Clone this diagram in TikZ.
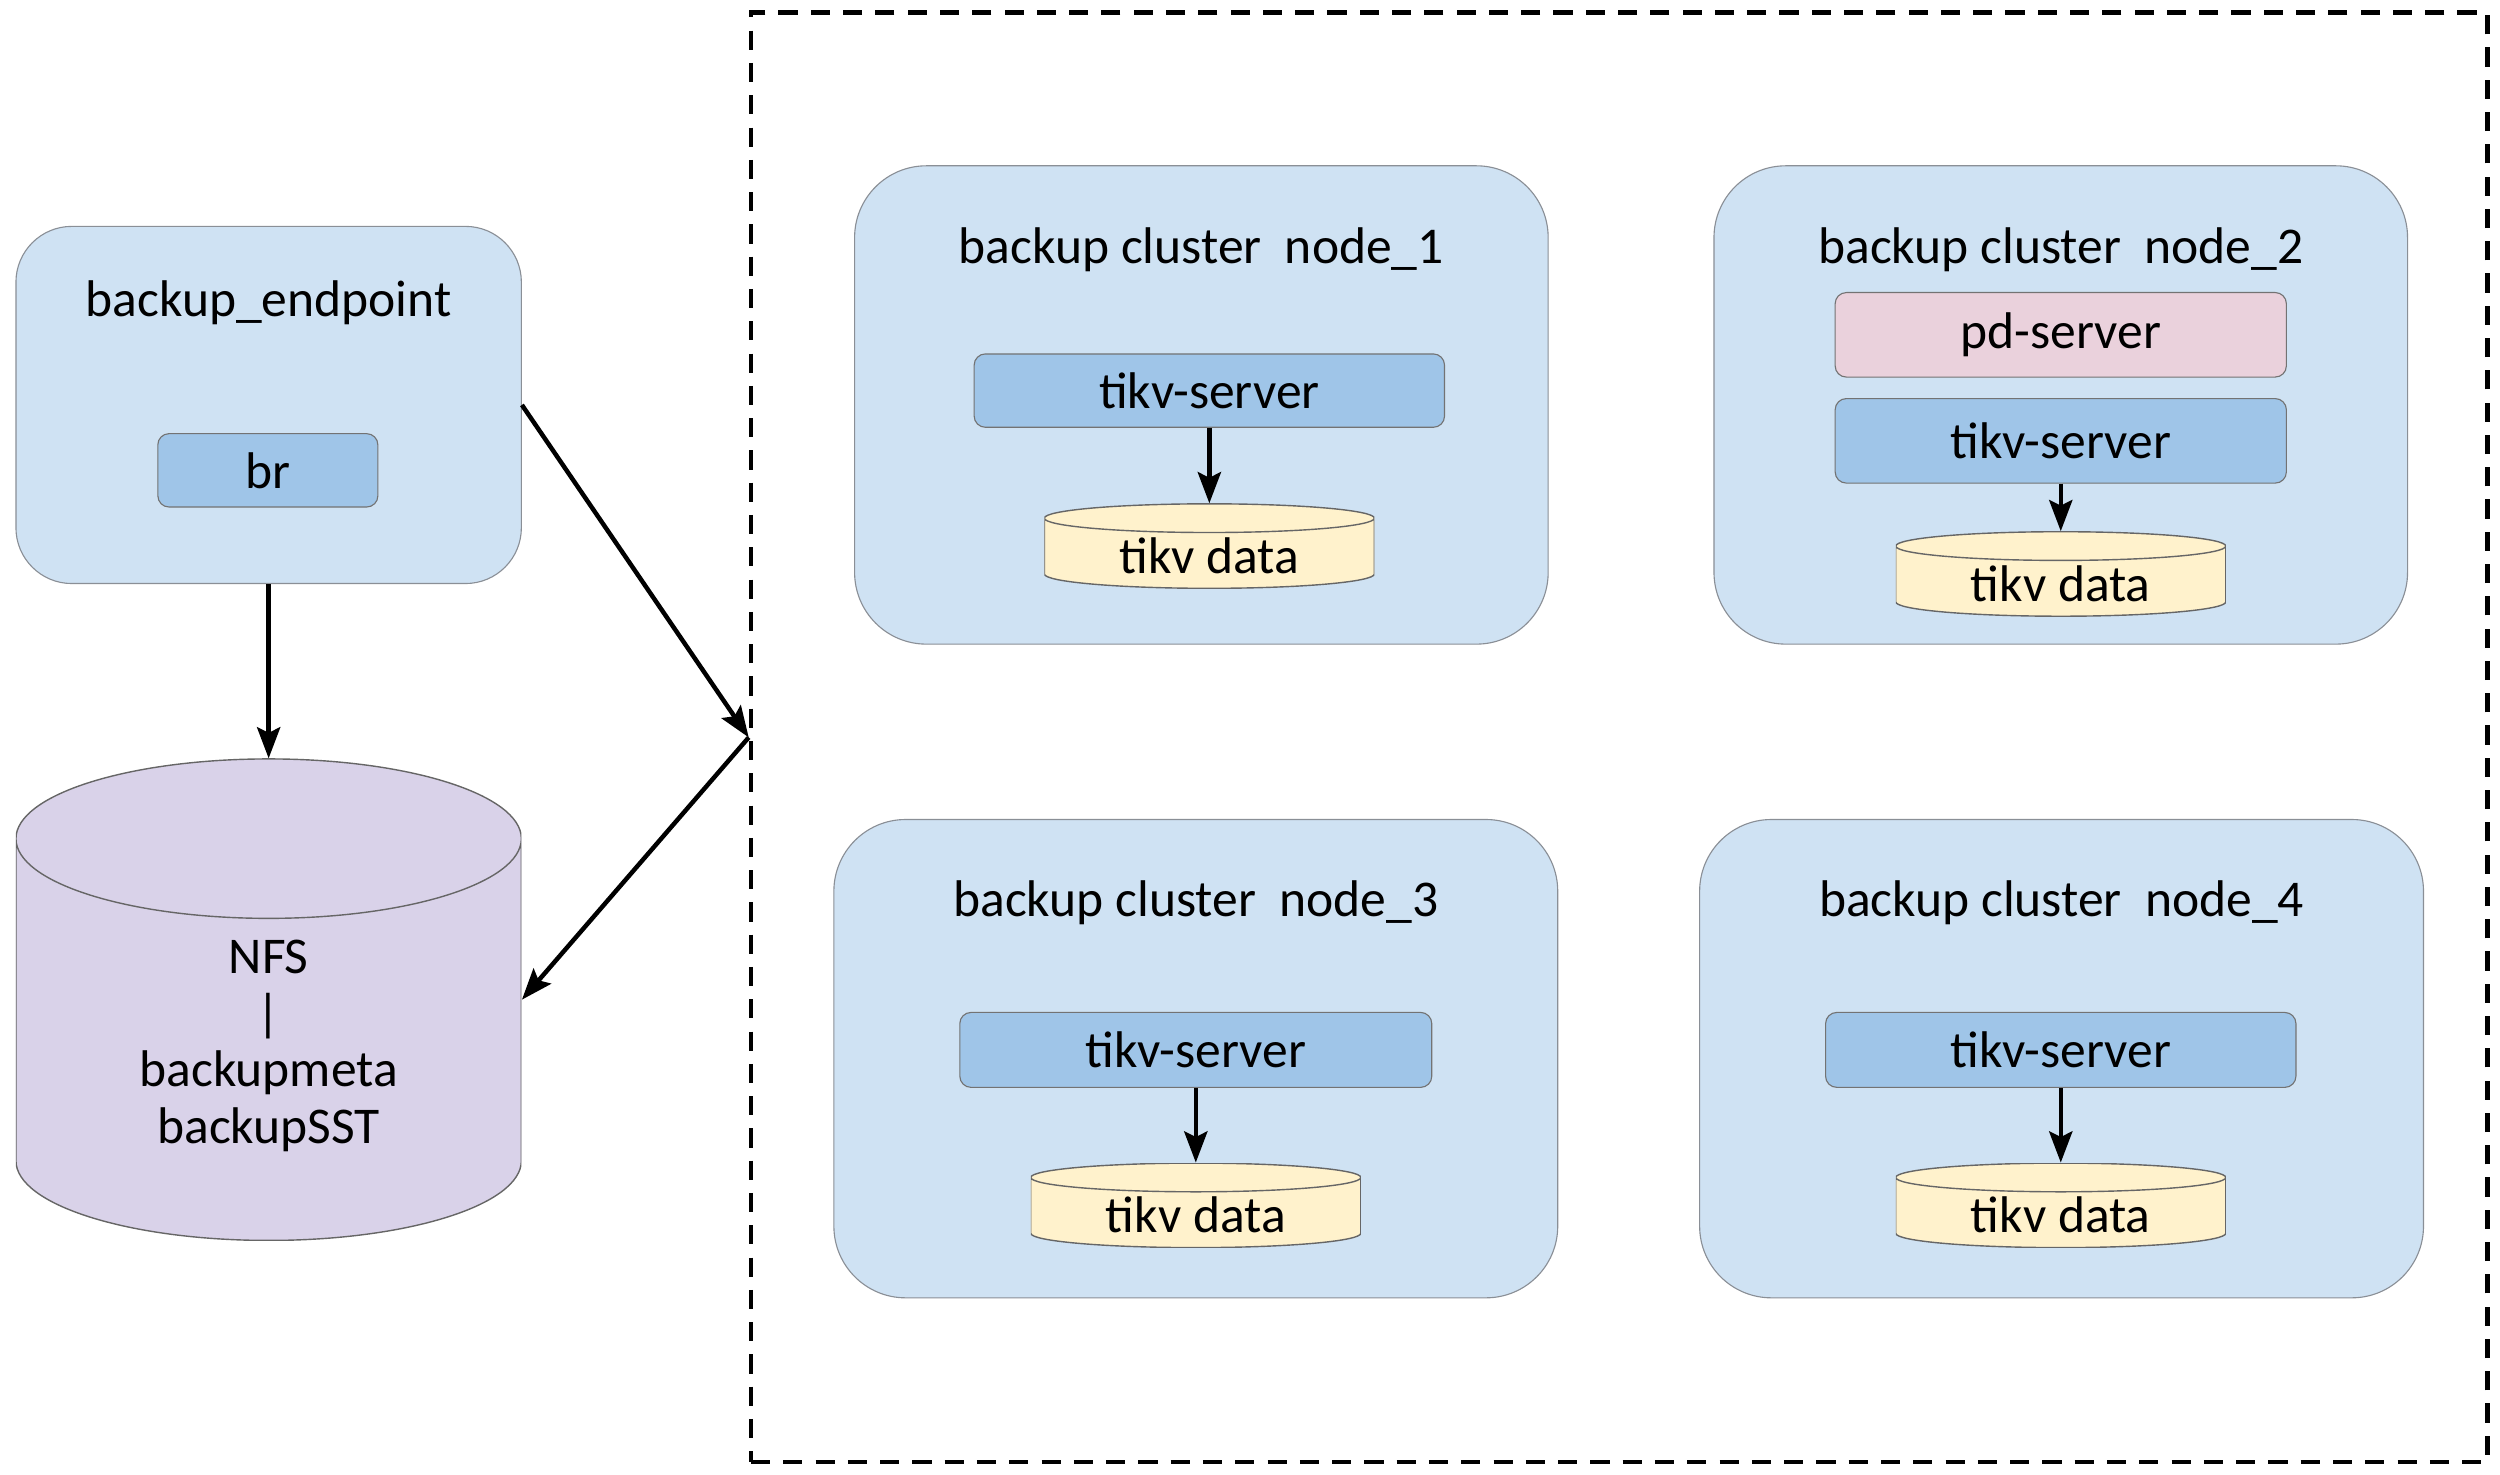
\documentclass[tikz,border=0pt]{standalone}
\usepackage{fontspec}
\setmainfont{Carlito}
\usetikzlibrary{positioning,arrows.meta,calc}

\definecolor{boxblue}{HTML}{CFE2F3}
\definecolor{srvblue}{HTML}{9FC5E8}
\definecolor{pdpink}{HTML}{EAD1DC}
\definecolor{datayellow}{HTML}{FFF2CC}
\definecolor{nfspurple}{HTML}{D9D2E9}
\definecolor{edgegray}{HTML}{8A8F96}

\begin{document}
\begin{tikzpicture}[
      every node/.style={font=\fontsize{18.4}{22}\selectfont},
      roundbox/.style={draw=edgegray, line width=0.4pt, fill=boxblue, inner sep=0pt},
      srvbox/.style={draw=black!55, line width=0.4pt, fill=srvblue,
                     rounded corners=0.14cm, inner sep=0pt},
      drum/.style 2 args={inner sep=0pt, path picture={
        \draw[fill=#1, draw=black!60, line width=0.5pt]
          let \p1=(path picture bounding box.north west),
              \p2=(path picture bounding box.south east),
              \n1={(\x2-\x1)/2} in
          (\x1,\y1-#2) -- (\x1,\y2+#2)
            arc[start angle=180, end angle=360, x radius=\n1, y radius=#2]
            -- (\x2,\y1-#2)
            arc[start angle=0, end angle=180, x radius=\n1, y radius=#2] -- cycle
          (\x1,\y1-#2) arc[start angle=180, end angle=360, x radius=\n1, y radius=#2];
      }},
      link/.style={-{Stealth[length=3.9mm, width=2.9mm, inset=0.7mm]}, line width=1.6pt},
    ]
    \useasboundingbox (0,0) rectangle (31.36,18.5);

    % --- backup endpoint ---
    \node[roundbox, rounded corners=0.7cm, minimum width=6.34cm, minimum height=4.48cm] (ep) at (3.37,13.42) {};
    \node (eptitle) at (3.37,14.7) {backup\_endpoint};
    \node[srvbox, minimum width=2.76cm, minimum height=0.92cm] (br) at (3.36,12.6) {br};

    % --- NFS ---
    \node[drum={nfspurple}{1.0cm}, minimum width=6.34cm, minimum height=6.04cm] (nfs) at (3.37,5.96) {};
    \node[align=center, font=\fontsize{18.4}{20.2}\selectfont] (nfstext) at (3.37,5.38) {NFS\\|\\backupmeta\\backupSST};

    % --- backup cluster ---
    \node[draw, line width=1.6pt, dash pattern=on 2.4mm off 1.65mm, inner sep=0pt,
          minimum width=21.78cm, minimum height=18.18cm] (grp) at (20.31,9.25) {};

    \foreach \name/\x/\y/\w/\num in {c1/15.07/13.42/8.70/1, c2/25.85/13.42/8.70/2,
                                     c3/15.0/5.22/9.08/3, c4/25.86/5.22/9.08/4} {
      \node[roundbox, rounded corners=0.9cm, minimum width=\w cm, minimum height=6cm] (\name) at (\x,\y) {};
      \node (t\num) at (\x,\y+1.95) {backup cluster\ \ node\_\num};
    }

    \node[srvbox, fill=pdpink, minimum width=5.66cm, minimum height=1.06cm] (pd) at (25.85,14.3) {pd-server};

    % --- tikv-server and tikv data ---
    \foreach \num/\x/\ys/\w/\h/\yd in {1/15.17/13.6/5.9/0.92/11.65, 2/25.85/12.97/5.66/1.06/11.3,
                                       3/15.0/5.33/5.92/0.94/3.38, 4/25.85/5.33/5.9/0.94/3.38} {
      \node[srvbox, minimum width=\w cm, minimum height=\h cm] (kv\num) at (\x,\ys) {tikv-server};
      \node[drum={datayellow}{0.18cm}, minimum width=4.14cm, minimum height=1.06cm,
            text height=0.68cm, text depth=0pt] (kd\num) at (\x,\yd) {tikv data};
      \draw[link] (kv\num.south) -- (kd\num.north);
    }

    % --- connectors ---
    \draw[link] (ep.south) -- (nfs.north);
    \draw[link] (ep.east) -- (grp.west);
    \draw[link] (grp.west) -- (nfs.east);
  \end{tikzpicture}
\end{document}
